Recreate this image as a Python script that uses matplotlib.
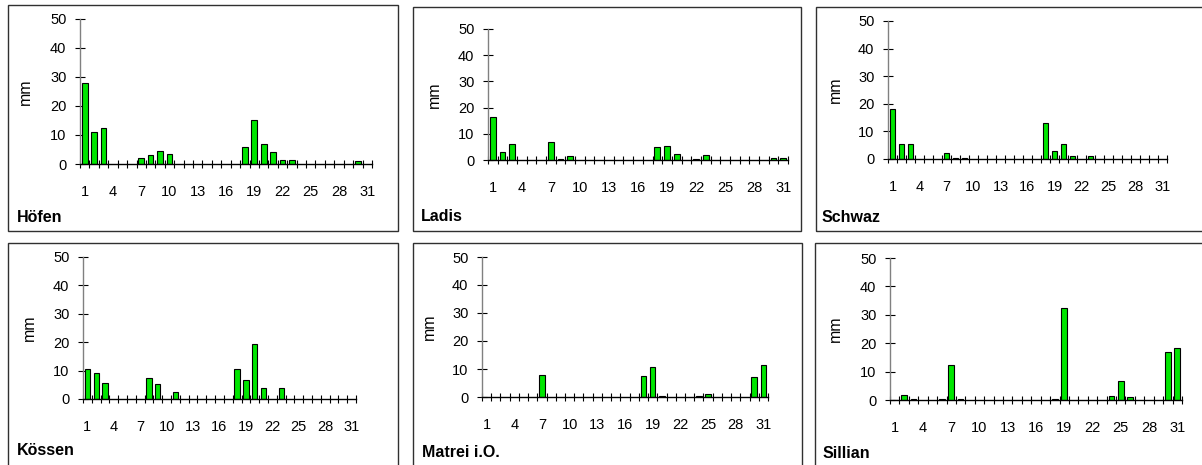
import numpy as np
import matplotlib
matplotlib.use("Agg")
import matplotlib.pyplot as plt
from matplotlib.patches import Rectangle

plt.rcParams['font.family'] = ['Liberation Sans', 'DejaVu Sans']

# =========================
# Daten: Niederschlag pro Tag (mm)
# =========================
days = np.arange(1, 32)
day_labels = [str(d) for d in range(1, 32, 3)]

stations = ["Höfen", "Ladis", "Schwaz", "Kössen", "Matrei i.O.", "Sillian"]

hoefen = [27.8, 10.9, 12.3, 0, 0, 0, 2.2, 3.1, 4.5, 3.6,
          0, 0, 0, 0, 0, 0, 0, 5.7, 15.3, 7.0,
          4.0, 1.3, 1.3, 0, 0, 0, 0, 0, 0, 1.0, 0]
ladis = [16.3, 2.9, 6.2, 0, 0, 0, 6.7, 0.5, 1.4, 0,
         0, 0, 0, 0, 0, 0, 0, 4.8, 5.3, 2.4,
         0, 0.5, 1.9, 0, 0, 0, 0, 0, 0, 0.9, 0.9]
schwaz = [18.1, 5.5, 5.5, 0, 0, 0, 2.3, 0.5, 0.5, 0,
          0, 0, 0, 0, 0, 0, 0, 13.2, 2.8, 5.5,
          1.1, 0, 1.0, 0, 0, 0, 0, 0, 0, 0, 0]
koessen = [10.6, 9.2, 5.6, 0, 0, 0, 0, 7.5, 5.3, 0,
           2.5, 0, 0, 0, 0, 0, 0, 10.6, 6.6, 19.4,
           4.0, 0, 4.0, 0, 0, 0, 0, 0, 0, 0, 0]
matrei = [0, 0, 0, 0, 0, 0, 8.0, 0, 0, 0,
          0, 0, 0, 0, 0, 0, 0, 7.5, 10.6, 0.5,
          0, 0, 0, 0.5, 1.2, 0, 0, 0, 0, 7.1, 11.6]
sillian = [0.1, 1.9, 0.3, 0, 0, 0.3, 12.4, 0.3, 0, 0,
           0, 0, 0, 0, 0, 0, 0, 0.3, 32.4, 0,
           0, 0, 0, 1.4, 6.7, 0.9, 0, 0, 0, 17.0, 18.2]

values = [hoefen, ladis, schwaz, koessen, matrei, sillian]

# =========================
# Layout (Pixel)
# =========================
W, H = 1202, 465

# Achsenbereich: links, rechts, oben (50), unten (0)
axes_px = [(80, 372, 19, 164), (488, 788, 29, 160), (888, 1167, 21, 159),
           (83, 356, 257, 399), (482, 768, 257, 397), (890, 1182, 258, 400)]
# Rahmen: x0, y0, x1, y1
boxes_px = [(8, 5, 398, 231), (413, 7, 801, 231), (816, 7, 1212, 231),
            (8, 243, 398, 472), (413, 243, 802, 472), (815, 243, 1212, 472)]
# Stationsname: links, Mitte y
names_px = [(17, 217), (421, 216), (822, 217), (17, 450), (422, 452), (823, 453)]
# "mm" Position x
mm_x = [33, 442, 843, 37, 437, 843]

fig = plt.figure(figsize=(W / 100, H / 100), dpi=100)


def fx(x):
    return x / W


def fy(y):
    return 1 - y / H


for i in range(6):
    x0, y0, x1, y1 = boxes_px[i]
    fig.patches.append(Rectangle((fx(x0), fy(y1)), fx(x1 - x0), (y1 - y0) / H,
                                 transform=fig.transFigure, fill=False,
                                 edgecolor='#303030', linewidth=1.0))

    left, right, top, bottom = axes_px[i]
    ax = fig.add_axes([fx(left), fy(bottom), fx(right - left), (bottom - top) / H])
    ax.patch.set_alpha(0)

    v = np.array(values[i])
    mask = v > 0
    ax.bar(days[mask], v[mask], width=0.6, color='#00e600',
           edgecolor='black', linewidth=0.8, zorder=3)

    ax.set_xlim(0.5, 31.5)
    ax.set_ylim(0, 50)
    ax.set_yticks(range(0, 51, 10))
    ax.set_xticks(range(1, 32, 3))
    ax.set_xticklabels(day_labels)
    ax.set_xticks(np.arange(0.5, 32, 1), minor=True)

    for s in ['top', 'right']:
        ax.spines[s].set_visible(False)
    ax.spines['left'].set_color('#808080')
    ax.spines['bottom'].set_color('black')
    ax.spines['left'].set_linewidth(1.0)
    ax.spines['bottom'].set_linewidth(1.0)
    ax.spines['bottom'].set_zorder(4)

    ax.tick_params(axis='x', which='major', length=0, pad=15, labelsize=10.5)
    ax.tick_params(axis='x', which='minor', direction='inout', length=6,
                   width=0.8, color='black')
    ax.tick_params(axis='y', direction='inout', length=6.5, width=0.8,
                   color='black', pad=6.5, labelsize=10.5)

    ax.set_ylabel("mm", fontsize=11.5)
    ax.yaxis.set_label_coords(fx(mm_x[i]), fy((top + bottom) / 2),
                              transform=fig.transFigure)

    nx, ny = names_px[i]
    fig.text(fx(nx), fy(ny), stations[i], fontsize=11.5, fontweight='bold',
             ha='left', va='center')

plt.savefig("out.png", dpi=100)
